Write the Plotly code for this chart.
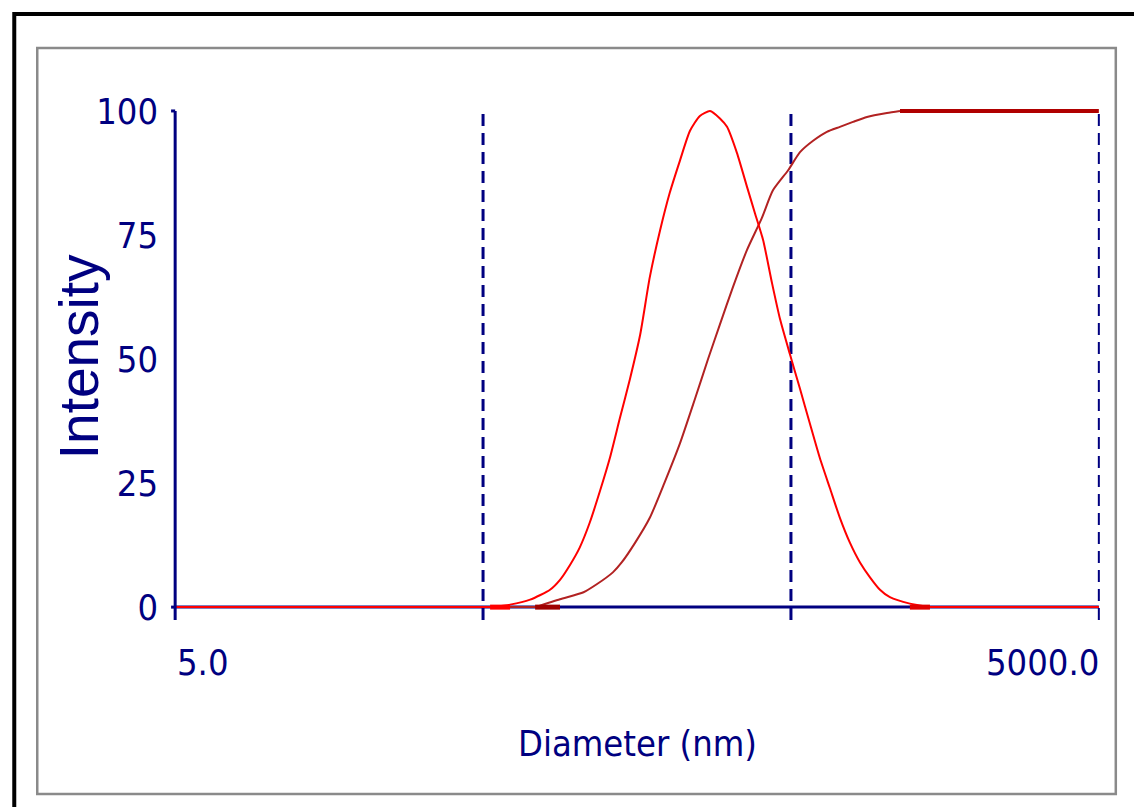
import numpy as np
import plotly.graph_objects as go

# ---- data ----
diam_dist = [5.0, 52.7, 61.2, 71.1, 82.5, 88.9, 95.8, 103, 111, 120, 129, 139, 150, 162,
             174, 188, 202, 218, 235, 253, 273, 294, 310, 334, 360, 382, 406, 434, 461,
             496, 535, 576, 621, 669, 721, 777, 838, 903, 973, 1048, 1217, 1414, 5000.0]
intensity = [0, 0, 0.5, 1.5, 3.5, 5.5, 8.5, 12, 17, 23.5, 30, 38, 46, 55,
             66.5, 76, 83.5, 90, 96, 99, 100, 98.5, 96.8, 91.5, 84.7, 79.4, 74, 65.3, 58,
             51, 44, 37, 30, 24, 18, 13, 9, 6, 3.5, 2, 0.7, 0, 0]

diam_cum = [5.0, 73.8, 88.9, 106, 117, 132, 141, 156, 174, 194, 218, 244, 269, 294, 324,
            360, 402, 437, 489, 535, 590, 654, 721, 795, 883, 1025, 1130, 5000.0]
cumulative = [0, 0, 1.6, 3, 4.6, 7, 9, 13, 18, 25, 33, 42, 50, 57, 64.5,
              72, 78.4, 84, 88, 91.7, 94, 95.8, 96.8, 97.8, 98.8, 99.6, 100, 100]

dashed_at = [50, 500, 5000]
y_ticks = [0, 25, 50, 75, 100]
x_min_label = "5.0"
x_max_label = "5000.0"
x_min, x_max = 5.0, 5000.0

NAVY = "#000080"
RED = "#ff0000"
DARKRED = "#b22222"
NARROW = "Liberation Sans Narrow, Arial Narrow, DejaVu Sans Condensed, sans-serif"

W, H = 1134, 807
L, R, T, B = 168.8, 1105.2, 106, 622  # plot area in pixels
PW, PH = R - L, B - T


def px(xp):
    return (xp - L) / PW


def py(yp):
    return (B - yp) / PH


def seg(x, y, color, width, shape="linear"):
    return go.Scatter(x=x, y=y, mode="lines", hoverinfo="skip",
                      line=dict(color=color, width=width, shape=shape, smoothing=0.6))


fig = go.Figure()
# cumulative curve: flat start, smooth rise, thick plateau
fig.add_trace(seg(diam_cum[:2], cumulative[:2], DARKRED, 2))
fig.add_trace(seg(diam_cum[1:-1], cumulative[1:-1], DARKRED, 2, "spline"))
fig.add_trace(seg(diam_cum[-2:], cumulative[-2:], "#b00000", 4))
fig.add_trace(seg(diam_cum[1:3], cumulative[1:2] * 2, "#a00000", 5))
# distribution curve
fig.add_trace(seg(diam_dist[:2], intensity[:2], RED, 2))
fig.add_trace(seg(diam_dist[1:-1], intensity[1:-1], RED, 2, "spline"))
fig.add_trace(seg(diam_dist[-2:], intensity[-2:], RED, 2))
fig.add_trace(seg(diam_dist[1:3], intensity[1:2] * 2, RED, 5))
fig.add_trace(seg(diam_dist[-3:-1], intensity[-2:-1] * 2, "#e00000", 5))

shapes = []
# outer black frame and inner grey box
shapes.append(dict(type="rect", xref="paper", yref="paper", x0=px(14), x1=px(1145),
                   y0=py(14), y1=py(830), line=dict(color="black", width=4)))
shapes.append(dict(type="rect", xref="paper", yref="paper", x0=px(37), x1=px(1116),
                   y0=py(48), y1=py(794), line=dict(color="#8a8a8a", width=2.5)))
# axis lines
shapes.append(dict(type="line", xref="x", yref="y", x0=x_min, x1=x_max, y0=0, y1=0,
                   line=dict(color=NAVY, width=3), layer="below"))
shapes.append(dict(type="line", xref="x", yref="y", x0=x_min, x1=x_min, y0=-2.6, y1=100,
                   line=dict(color=NAVY, width=3)))
shapes.append(dict(type="line", xref="x", yref="y", x0=x_min, x1=x_min * 0.97, y0=100, y1=100,
                   line=dict(color=NAVY, width=3)))
shapes.append(dict(type="line", xref="x", yref="y", x0=x_min, x1=x_min * 0.97, y0=0, y1=0,
                   line=dict(color=NAVY, width=3)))
for i, d in enumerate(dashed_at):
    shapes.append(dict(type="line", xref="x", yref="y", x0=d, x1=d, y0=-2.6, y1=100,
                       line=dict(color=NAVY, width=3 if i < 2 else 2, dash="12px,7px"),
                       layer="below"))

annotations = [
    dict(text=x_min_label, x=px(175), y=py(662), xref="paper", yref="paper", xanchor="left",
         yanchor="middle", showarrow=False, font=dict(family=NARROW, size=36, color=NAVY)),
    dict(text=x_max_label, x=px(1101), y=py(662), xref="paper", yref="paper", xanchor="right",
         yanchor="middle", showarrow=False, font=dict(family=NARROW, size=36, color=NAVY)),
    dict(text="Diameter (nm)", x=px(638), y=py(743), xref="paper", yref="paper",
         xanchor="center", yanchor="middle", showarrow=False,
         font=dict(family=NARROW, size=36, color=NAVY)),
    dict(text="Intensity", x=px(79), y=py(357), xref="paper", yref="paper", xanchor="center",
         yanchor="middle", textangle=-90, showarrow=False,
         font=dict(family="Liberation Sans, Arial, sans-serif", size=55, color=NAVY)),
]

fig.update_layout(
    width=W, height=H,
    margin=dict(l=L, r=W - R, t=T, b=H - B, pad=0),
    paper_bgcolor="white", plot_bgcolor="white",
    showlegend=False,
    shapes=shapes, annotations=annotations,
    xaxis=dict(type="log", range=[np.log10(x_min) - 0.02, np.log10(x_max) + 0.02],
               showgrid=False, zeroline=False, showline=False, showticklabels=False,
               ticks=""),
    yaxis=dict(range=[-3, 101], tickvals=y_ticks, ticktext=[str(v) for v in y_ticks],
               showgrid=False, zeroline=False, showline=False, ticks="",
               ticklabelstandoff=10,
               tickfont=dict(family=NARROW, size=36, color=NAVY)),
)

fig.write_html("out.html")
